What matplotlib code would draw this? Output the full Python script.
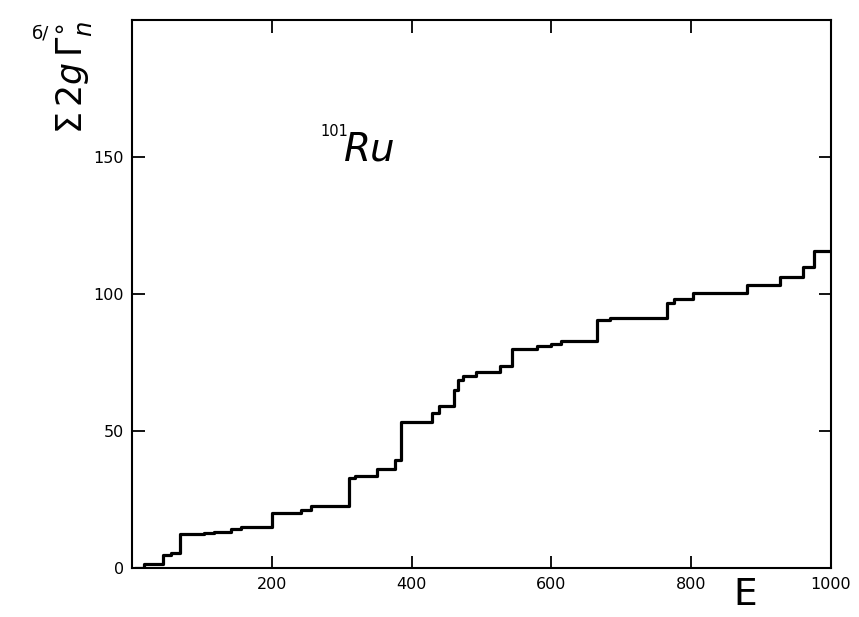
import matplotlib
matplotlib.use("Agg")
import matplotlib.pyplot as plt
import numpy as np

plt.rcParams['font.family'] = ['DejaVu Sans']
plt.rcParams['mathtext.fontset'] = 'dejavusans'

# Step positions (energy, eV) and cumulative value after each step
energy = [5, 17, 44, 55, 69, 103, 117, 141, 156, 200, 242, 256, 311, 319, 350,
          376, 385, 429, 439, 461, 466, 473, 492, 526, 544, 579, 600, 614, 666,
          684, 765, 775, 803, 880, 928, 961, 976, 1000]
cum_sum = [0, 1.7, 4.9, 5.7, 12.4, 12.9, 13.4, 14.2, 15.1, 20.1, 21.3, 22.7,
           32.8, 33.6, 36.3, 39.3, 53.2, 56.7, 59.1, 65.1, 68.8, 70.2, 71.6,
           73.6, 80.0, 81.1, 81.9, 82.8, 90.5, 91.3, 96.9, 98.0, 100.4, 103.1,
           106.2, 109.8, 115.5, 115.5]

x_ticks = [200, 400, 600, 800, 1000]
y_ticks = [0, 50, 100, 150]

fig = plt.figure(figsize=(8.59, 6.17), dpi=100)
ax = fig.add_axes([0.154, 0.079, 0.813, 0.889])

ax.step(energy, cum_sum, where='post', color='black', linewidth=2.3)

ax.set_xlim(0, 1000)
ax.set_ylim(0, 200)
ax.set_xticks(x_ticks)
ax.set_yticks(y_ticks)
ax.tick_params(axis='both', direction='in', top=True, right=True,
               length=9, width=1.3, labelsize=11.5, pad=6)
for s in ax.spines.values():
    s.set_linewidth(1.5)

# isotope label
fig.text(320 / 859, 1 - 124 / 617, '101', fontsize=10.5, ha='left', va='top')
fig.text(344 / 859, 1 - 160 / 617, 'Ru', fontsize=28, style='italic',
         ha='left', va='baseline')

fig.text(0.086, 0.875, r'$\Sigma\,2g\,\Gamma_n^{\circ}$', rotation=90,
         fontsize=25, ha='center', va='center')
fig.text(0.047, 0.945, 'б/', fontsize=13, ha='center', va='center')
fig.text(0.868, 0.035, 'E', fontsize=27, ha='center', va='center')

fig.savefig('out.png', dpi=100)
